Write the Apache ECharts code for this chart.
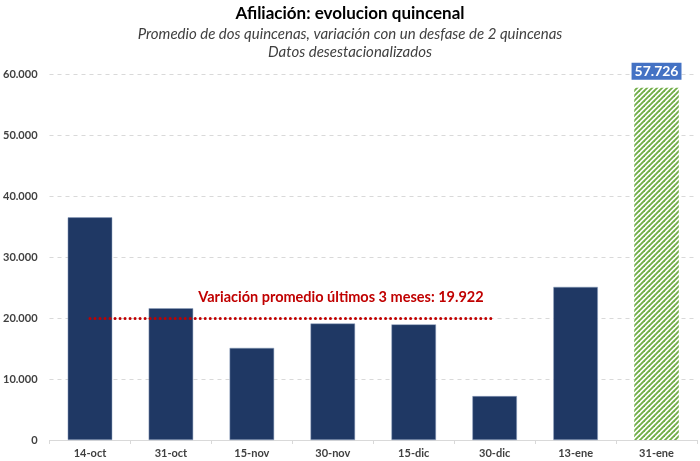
<!DOCTYPE html>
<html>
<head>
<meta charset="utf-8">
<script src="https://cdn.jsdelivr.net/npm/echarts@6/dist/echarts.min.js"></script>
<style>
html,body{margin:0;padding:0;background:#fff;}
#main{width:700px;height:461px;}
</style>
</head>
<body>
<div id="main"></div>
<script>
var categories = ['14-oct','31-oct','15-nov','30-nov','15-dic','30-dic','13-ene','31-ene'];
var values = [36500, 21600, 15100, 19100, 18950, 7200, 25100, 57726];
var avgValue = 19922;
var avgFrom = '14-oct';
var avgTo = '30-dic';
var titleText = 'Afiliación: evolucion quincenal';
var subtitleText = 'Promedio de dos quincenas, variación con un desfase de 2 quincenas\nDatos desestacionalizados';
var avgLabel = 'Variación promedio últimos 3 meses: ';

function fmt(v){ return String(Math.round(v)).replace(/\B(?=(\d{3})+(?!\d))/g,'.'); }

var FONT = 'Lato';

var pc = document.createElement('canvas');
pc.width = 5; pc.height = 5;
var ctx = pc.getContext('2d');
ctx.fillStyle = '#ffffff'; ctx.fillRect(0,0,5,5);
ctx.strokeStyle = '#70AD47'; ctx.lineWidth = 1.9;
[[-5,5,5,-5],[0,5,5,0],[0,10,10,0]].forEach(function(l){
  ctx.beginPath(); ctx.moveTo(l[0],l[1]); ctx.lineTo(l[2],l[3]); ctx.stroke();
});

var last = values.length - 1;
var barData = values.map(function(v,i){
  if (i === last) {
    return {
      value: v,
      itemStyle: { color: { image: pc, repeat: 'repeat' }, borderWidth: 0 },
      label: {
        show: true, position: 'top', distance: 8,
        formatter: function(p){ return fmt(p.value); },
        color: '#fff', fontWeight: 'bold', fontSize: 14, fontFamily: FONT,
        backgroundColor: '#4472C4', padding: [2,3,1,3]
      }
    };
  }
  return v;
});

var chart = echarts.init(document.getElementById('main'));
chart.setOption({
  animation: false,
  title: {
    text: titleText,
    subtext: subtitleText,
    left: 'center', top: 0, itemGap: 3,
    textStyle: { fontFamily: FONT, fontWeight: 'bold', fontSize: 17, color: '#000' },
    subtextStyle: { fontFamily: FONT, fontStyle: 'italic', fontSize: 15, color: '#404040', lineHeight: 18 }
  },
  grid: { left: 42, right: 3, top: 74, bottom: 21, containLabel: false },
  xAxis: {
    type: 'category', data: categories, boundaryGap: true,
    axisLine: { lineStyle: { color: '#D9D9D9' } },
    axisTick: { show: true, length: 4, lineStyle: { color: '#D9D9D9' } },
    axisLabel: { color: '#404040', fontWeight: 'bold', fontSize: 11, fontFamily: FONT, margin: 8 }
  },
  yAxis: {
    type: 'value', min: 0, max: 60000, interval: 10000,
    axisLine: { show: false }, axisTick: { show: false },
    splitLine: { lineStyle: { color: '#D9D9D9', type: [4,4] } },
    axisLabel: { color: '#404040', fontWeight: 'bold', fontSize: 11, fontFamily: FONT, margin: 12,
      formatter: function(v){ return fmt(v); } }
  },
  series: [{
    type: 'bar', data: barData, barWidth: '55%',
    itemStyle: { color: '#1F3864', borderColor: '#8FA0BF', borderWidth: 0.5 },
    markLine: {
      silent: true, symbol: 'none',
      lineStyle: { color: '#C00000', type: [0.01, 5], width: 3, cap: 'round' },
      label: {
        show: true, position: 'insideEndTop', distance: [11, 14],
        formatter: avgLabel + fmt(avgValue),
        color: '#C00000', fontWeight: 'bold', fontSize: 14.5, fontFamily: FONT
      },
      data: [[{ coord: [avgFrom, avgValue] }, { coord: [avgTo, avgValue] }]]
    }
  }]
});
</script>
</body>
</html>
